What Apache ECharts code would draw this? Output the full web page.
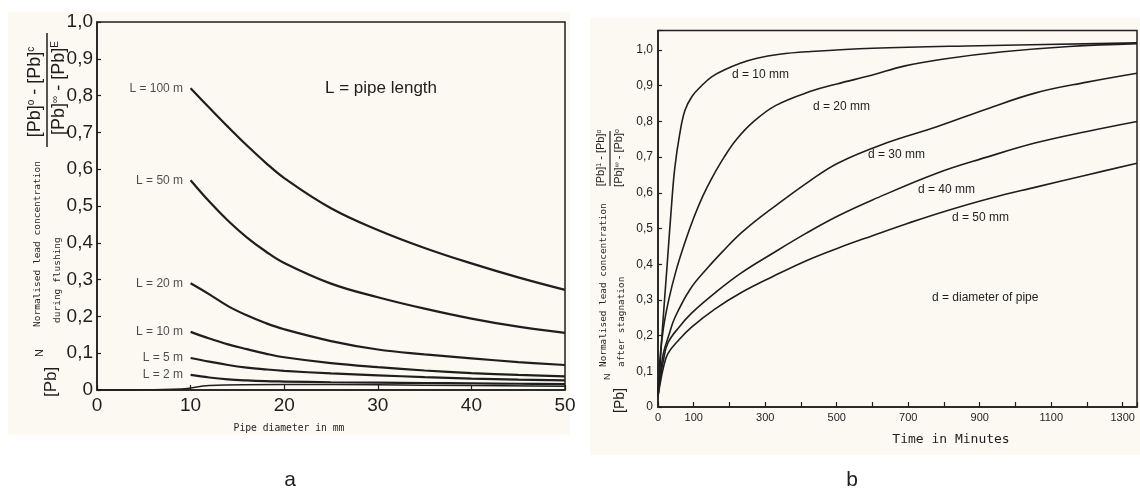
<!DOCTYPE html>
<html>
<head>
<meta charset="utf-8">
<script src="https://cdn.jsdelivr.net/npm/echarts@6/dist/echarts.min.js"></script>
<style>
html, body { margin: 0; padding: 0; background: #fff; }
#chart { width: 1140px; height: 504px; }
</style>
</head>
<body>
<div id="chart"></div>
<script>
// panel a: lead during flushing vs pipe diameter, one curve per pipe length
var lengthNames = ['L = 100 m', 'L = 50 m', 'L = 20 m', 'L = 10 m', 'L = 5 m', 'L = 2 m'];
var diameters = [10, 12, 14, 16, 18, 20, 25, 30, 35, 40, 45, 50];
var flushL100 = [0.82, 0.767, 0.715, 0.665, 0.618, 0.576, 0.494, 0.435, 0.386, 0.344, 0.306, 0.272];
var flushL50 = [0.57, 0.512, 0.46, 0.415, 0.377, 0.345, 0.289, 0.252, 0.221, 0.194, 0.172, 0.155];
var flushL20 = [0.29, 0.26, 0.228, 0.203, 0.182, 0.165, 0.133, 0.11, 0.097, 0.086, 0.076, 0.068];
var flushL10 = [0.158, 0.14, 0.124, 0.111, 0.099, 0.089, 0.073, 0.062, 0.053, 0.046, 0.041, 0.037];
var flushL5 = [0.087, 0.077, 0.068, 0.061, 0.056, 0.052, 0.045, 0.04, 0.035, 0.031, 0.028, 0.026];
var flushL2 = [0.041, 0.034, 0.029, 0.026, 0.024, 0.023, 0.021, 0.02, 0.019, 0.018, 0.017, 0.016];
var baseDiameters = [0, 9, 12, 20, 30, 40, 50];
var baseValues = [0, 0.003, 0.012, 0.015, 0.014, 0.012, 0.01];

// panel b: lead after stagnation vs time, one curve per diameter  [minutes, value]
var stagD10 = [[0, 0.03], [5, 0.1], [11, 0.2], [25, 0.39], [39, 0.58], [47, 0.67], [60, 0.76], [75, 0.83], [95, 0.87],
  [122, 0.9], [150, 0.925], [185, 0.944], [230, 0.963], [277, 0.977], [340, 0.988], [415, 0.995], [600, 1.005], [900, 1.012], [1340, 1.02]];
var stagD20 = [[0, 0.03], [5, 0.13], [15, 0.22], [30, 0.3], [50, 0.38], [75, 0.46], [100, 0.53], [125, 0.59], [150, 0.64],
  [185, 0.7], [220, 0.75], [268, 0.8], [330, 0.845], [429, 0.885], [500, 0.905], [600, 0.93], [688, 0.955], [800, 0.975], [965, 0.995], [1150, 1.01], [1340, 1.018]];
var stagD30 = [[0, 0.03], [5, 0.08], [15, 0.15], [30, 0.2], [47, 0.25], [90, 0.33], [139, 0.39], [185, 0.44], [232, 0.487],
  [290, 0.535], [351, 0.58], [420, 0.63], [503, 0.683], [640, 0.74], [780, 0.785], [920, 0.835], [1057, 0.88], [1200, 0.91], [1340, 0.935]];
var stagD40 = [[0, 0.03], [5, 0.07], [15, 0.13], [28, 0.18], [60, 0.225], [94, 0.263], [160, 0.32], [232, 0.375], [320, 0.43],
  [415, 0.487], [503, 0.535], [600, 0.58], [780, 0.655], [920, 0.7], [1057, 0.74], [1200, 0.772], [1340, 0.80]];
var stagD50 = [[0, 0.03], [5, 0.06], [15, 0.11], [28, 0.15], [60, 0.19], [94, 0.224], [160, 0.275], [232, 0.32], [320, 0.365],
  [415, 0.41], [503, 0.445], [600, 0.48], [700, 0.515], [808, 0.55], [930, 0.585], [1057, 0.616], [1200, 0.65], [1340, 0.683]];

var ink = '#1e1e1e';
var paper = '#fbf9f1';
var narrow = "'Liberation Sans Narrow', 'Liberation Sans', sans-serif";
var sans = "'Liberation Sans', sans-serif";
var mono = "'DejaVu Sans Mono', monospace";

function commaLabel(v) {
  var r = Math.round(v * 10);
  if (Math.abs(v * 10 - r) > 1e-6) return '';
  return r === 0 ? '0' : (r / 10).toFixed(1).replace('.', ',');
}

function curve(data, grid, width) {
  return {
    type: 'line', xAxisIndex: grid, yAxisIndex: grid, data: data,
    symbol: 'none', smooth: 0.4, silent: true,
    lineStyle: { color: ink, width: width }
  };
}

function vtext(x, y, text, font, align) {
  return {
    type: 'text', x: x, y: y, rotation: Math.PI / 2, silent: true,
    style: { text: text, font: font, fill: ink, textAlign: align || 'left', align: align || 'left', textVerticalAlign: 'middle', verticalAlign: 'middle' }
  };
}

function fraction(x, y, text, big, small, family) {
  return {
    type: 'text', x: x, y: y, rotation: Math.PI / 2, silent: true,
    style: {
      text: text, fill: ink, align: 'center', textAlign: 'center', verticalAlign: 'middle', textVerticalAlign: 'middle',
      fontSize: big, fontFamily: family,
      rich: {
        b: { fontSize: big, fontFamily: family, fill: ink },
        s: { fontSize: small, fontFamily: family, fill: ink, verticalAlign: 'top' }
      }
    }
  };
}

function htext(x, y, text, font, align) {
  return {
    type: 'text', x: x, y: y, silent: true,
    style: { text: text, font: font, fill: ink, textAlign: align || 'left', align: align || 'left', textVerticalAlign: 'middle', verticalAlign: 'middle' }
  };
}

var flushCurves = [flushL100, flushL50, flushL20, flushL10, flushL5, flushL2];
var series = flushCurves.map(function (ys) {
  return curve(diameters.map(function (d, i) { return [d, ys[i]]; }), 0, 2.2);
});
series.push(curve(baseDiameters.map(function (d, i) { return [d, baseValues[i]]; }), 0, 1.5));
series.push({
  type: 'scatter', xAxisIndex: 0, yAxisIndex: 0, symbolSize: 1, silent: true,
  itemStyle: { color: 'rgba(0,0,0,0)' },
  data: flushCurves.map(function (ys, i) { return { name: lengthNames[i], value: [diameters[0], ys[0]] }; }),
  label: { show: true, position: 'left', distance: 7, formatter: '{b}', color: ink, fontSize: 12, fontFamily: sans }
});
[stagD10, stagD20, stagD30, stagD40, stagD50].forEach(function (d) {
  series.push(curve(d, 1, 1.6));
});

var axisLineStyle = { lineStyle: { color: ink, width: 1.5 } };

var option = {
  animation: false,
  backgroundColor: '#ffffff',
  grid: [
    { left: 97, top: 22, width: 468, height: 368, show: true, borderColor: ink, borderWidth: 1.5, backgroundColor: 'transparent' },
    { left: 658, top: 30.4, right: -2, bottom: 97, show: true, borderColor: ink, borderWidth: 1.5, backgroundColor: 'transparent' }
  ],
  xAxis: [
    {
      type: 'value', gridIndex: 0, min: 0, max: 50, interval: 10,
      axisLine: axisLineStyle, splitLine: { show: false },
      axisTick: { inside: true, length: 5, lineStyle: { color: ink, width: 1.2 } },
      axisLabel: { color: ink, fontSize: 19, fontFamily: narrow, margin: 6 }
    },
    {
      type: 'value', gridIndex: 1, min: 0, max: 1340, interval: 100,
      axisLine: axisLineStyle, splitLine: { show: false },
      axisTick: { inside: true, length: 5, lineStyle: { color: ink, width: 1.2 } },
      axisLabel: {
        color: ink, fontSize: 11, fontFamily: sans, margin: 5,
        formatter: function (v) { return v === 0 ? '0' : (v % 200 === 100 ? String(v) : ''); }
      }
    }
  ],
  yAxis: [
    {
      type: 'value', gridIndex: 0, min: 0, max: 1, interval: 0.1,
      axisLine: axisLineStyle, splitLine: { show: false },
      axisTick: { inside: true, length: 4, lineStyle: { color: ink, width: 1.2 } },
      axisLabel: { color: ink, fontSize: 19, fontFamily: narrow, margin: 4, formatter: commaLabel }
    },
    {
      type: 'value', gridIndex: 1, min: 0, max: 1.055, interval: 0.1,
      axisLine: axisLineStyle, splitLine: { show: false },
      axisTick: { inside: true, length: 4, lineStyle: { color: ink, width: 1.2 } },
      axisLabel: { color: ink, fontSize: 12, fontFamily: sans, margin: 5, formatter: commaLabel }
    }
  ],
  graphic: [
    { type: 'rect', silent: true, z: -100, shape: { x: 8, y: 12, width: 562, height: 423 }, style: { fill: paper } },
    { type: 'rect', silent: true, z: -100, shape: { x: 590, y: 18, width: 550, height: 437 }, style: { fill: paper } },

    // panel a texts
    htext(325, 88, 'L = pipe length', '17px ' + sans),
    vtext(38, 327, 'Normalised lead concentration', '9.5px ' + mono),
    vtext(58, 323, 'during flushing', '9.5px ' + mono),
    vtext(51, 397, '[Pb]', '17px ' + sans),
    vtext(40, 357, 'N', '11px ' + sans),
    fraction(35, 92, '{b|[Pb]}{s|o}{b| - [Pb]}{s|c}', 18, 10, sans),
    fraction(59, 88, '{b|[Pb]}{s|\u221e}{b| - [Pb]}{s|E}', 18, 10, sans),
    { type: 'line', silent: true, shape: { x1: 47, y1: 33, x2: 47, y2: 147 }, style: { stroke: ink, lineWidth: 1.5 } },
    htext(289, 428, 'Pipe diameter in mm', '9.7px ' + mono, 'center'),
    htext(290, 480, 'a', '21px ' + sans, 'center'),

    // panel b texts
    htext(732, 75, 'd = 10 mm', '12px ' + sans),
    htext(813, 107, 'd = 20 mm', '12px ' + sans),
    htext(868, 155, 'd = 30 mm', '12px ' + sans),
    htext(918, 190, 'd = 40 mm', '12px ' + sans),
    htext(952, 218, 'd = 50 mm', '12px ' + sans),
    htext(932, 298, 'd = diameter of pipe', '12px ' + sans),
    vtext(604, 367, 'Normalised lead concentration', '9.4px ' + mono),
    vtext(622, 367, 'after stagnation', '9.4px ' + mono),
    vtext(620, 413, '[Pb]', '14px ' + sans),
    vtext(608, 380, 'N', '9px ' + sans),
    fraction(601, 158, '{b|[Pb]}{s|1}{b| - [Pb]}{s|o}', 11, 7, sans),
    fraction(619, 158, '{b|[Pb]}{s|\u221e}{b| - [Pb]}{s|o}', 11, 7, sans),
    { type: 'line', silent: true, shape: { x1: 610, y1: 131, x2: 610, y2: 186 }, style: { stroke: ink, lineWidth: 1.2 } },
    htext(951, 440, 'Time in Minutes', '13px ' + mono, 'center'),
    htext(852, 480, 'b', '21px ' + sans, 'center')
  ],
  series: series
};

var chart = echarts.init(document.getElementById('chart'), null, { renderer: 'canvas' });
chart.setOption(option);
</script>
</body>
</html>
